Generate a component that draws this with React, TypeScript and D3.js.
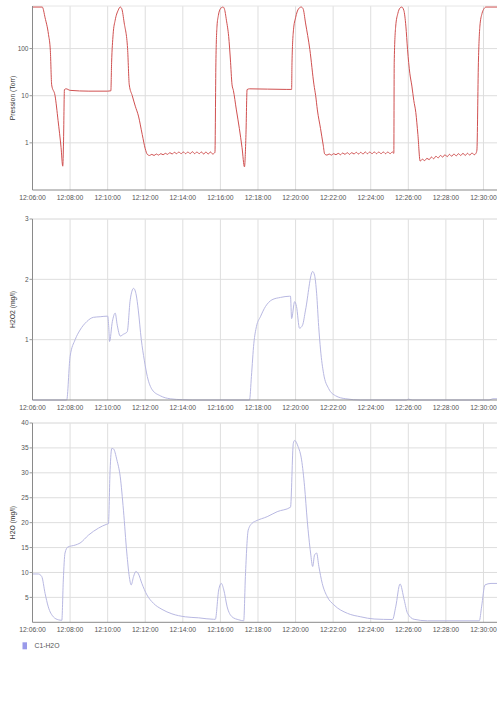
import React from "react";
import * as d3 from "d3";

// time in minutes after 12:06:00
const pressureData: [number, number][] = [
  [0, 760], [0.52, 760], [0.67, 450], [0.85, 200], [0.95, 90], [1.02, 17], [1.2, 10], [1.36, 3], [1.52, 0.8], [1.61, 0.32],
  [1.65, 1], [1.7, 13.5], [1.79, 14], [2, 13], [3, 12.5], [4, 12.5], [4.17, 12.7],
  [4.21, 50], [4.29, 200], [4.4, 400], [4.56, 650], [4.67, 760], [4.75, 700], [4.88, 350], [5.06, 100], [5.15, 17], [5.31, 10],
  [5.47, 6], [5.64, 3.7], [5.84, 1.5], [6.0, 0.75],
  [6.11, 0.57], [6.23, 0.54], [6.35, 0.57], [6.47, 0.54], [6.59, 0.58], [6.71, 0.55], [6.83, 0.59], [6.95, 0.56], [7.07, 0.6],
  [7.19, 0.57], [7.31, 0.62], [7.43, 0.58], [7.55, 0.63], [7.67, 0.59], [7.79, 0.64], [7.91, 0.59], [8.03, 0.64], [8.15, 0.59],
  [8.27, 0.64], [8.39, 0.59], [8.51, 0.65], [8.63, 0.59], [8.75, 0.64], [8.87, 0.59], [8.99, 0.64], [9.11, 0.58], [9.23, 0.64],
  [9.35, 0.58], [9.47, 0.64], [9.59, 0.58], [9.71, 0.63],
  [9.76, 50], [9.82, 300], [9.89, 500], [10.0, 700], [10.14, 760], [10.21, 700], [10.32, 400], [10.44, 180], [10.53, 60],
  [10.62, 17], [10.69, 13], [10.85, 5], [11.01, 2], [11.15, 0.8], [11.28, 0.31], [11.36, 1.5], [11.42, 13.5], [11.55, 14],
  [12.5, 13.8], [13.5, 13.6], [13.79, 13.6],
  [13.81, 50], [13.89, 250], [14.0, 450], [14.16, 700], [14.3, 760], [14.4, 700], [14.53, 350], [14.76, 95], [14.98, 17],
  [15.07, 10], [15.16, 5], [15.33, 2], [15.47, 0.9],
  [15.55, 0.58], [15.67, 0.55], [15.79, 0.58], [15.91, 0.55], [16.03, 0.59], [16.15, 0.56], [16.27, 0.6], [16.39, 0.56],
  [16.51, 0.61], [16.63, 0.57], [16.75, 0.62], [16.87, 0.57], [16.99, 0.62], [17.11, 0.58], [17.23, 0.63], [17.35, 0.58],
  [17.47, 0.63], [17.59, 0.58], [17.71, 0.64], [17.83, 0.59], [17.95, 0.64], [18.07, 0.59], [18.19, 0.64], [18.31, 0.59],
  [18.43, 0.64], [18.55, 0.59], [18.67, 0.64], [18.79, 0.59], [18.91, 0.64], [19.03, 0.59], [19.15, 0.64], [19.23, 0.6],
  [19.25, 50], [19.33, 300], [19.44, 550], [19.55, 720], [19.65, 760], [19.76, 650], [19.87, 300], [19.96, 95], [20.08, 30],
  [20.19, 16], [20.29, 8], [20.4, 4.4], [20.51, 1.5],
  [20.63, 0.41], [20.75, 0.45], [20.87, 0.42], [20.99, 0.47], [21.11, 0.44], [21.23, 0.5], [21.35, 0.46], [21.47, 0.52],
  [21.59, 0.48], [21.71, 0.54], [21.83, 0.5], [21.95, 0.56], [22.07, 0.51], [22.19, 0.57], [22.31, 0.52], [22.43, 0.58],
  [22.55, 0.53], [22.67, 0.59], [22.79, 0.54], [22.91, 0.6], [23.03, 0.54], [23.15, 0.6], [23.27, 0.55], [23.39, 0.61],
  [23.51, 0.56], [23.6, 0.6],
  [23.65, 0.7], [23.73, 50], [23.81, 300], [23.92, 550], [24.03, 700], [24.13, 760], [24.72, 760],
];

const h2o2Data: [number, number][] = [
  [0, 0], [1.82, 0], [2.0, 0.72], [2.27, 1.0], [2.53, 1.16], [2.89, 1.3], [3.24, 1.37], [3.6, 1.38], [4.0, 1.39], [4.06, 1.2],
  [4.1, 0.97], [4.25, 1.3], [4.4, 1.44], [4.51, 1.24], [4.67, 1.06], [4.84, 1.09], [5.04, 1.13], [5.2, 1.66], [5.38, 1.85],
  [5.52, 1.74], [5.63, 1.49], [5.79, 1.0], [5.95, 0.66], [6.11, 0.39], [6.37, 0.17], [6.8, 0.07], [7.33, 0.02], [7.97, 0.005],
  [8.5, 0], [11.55, 0], [11.65, 0.39], [11.78, 0.94], [11.92, 1.22], [12.13, 1.38], [12.4, 1.55], [12.74, 1.66], [13.2, 1.7],
  [13.68, 1.72], [13.73, 1.72], [13.79, 1.35], [13.95, 1.63], [14.05, 1.55], [14.21, 1.19], [14.37, 1.24], [14.53, 1.49],
  [14.91, 2.13], [15.01, 2.07], [15.12, 1.77], [15.23, 1.22], [15.33, 0.83], [15.49, 0.44], [15.76, 0.19], [16.13, 0.07],
  [16.67, 0.02], [17.47, 0], [19.9, 0], [20.0, 0.015], [20.2, 0], [24.3, 0], [24.5, 0.02], [24.72, 0.02],
];

const h2oData: [number, number][] = [
  [0, 9.7], [0.31, 9.7], [0.49, 9.2], [0.67, 5.8], [0.84, 3.1], [1.11, 1.1], [1.38, 0.5], [1.56, 0.4], [1.64, 8.5],
  [1.73, 13.9], [1.88, 15.1], [2.27, 15.5], [2.53, 15.9], [2.98, 17.5], [3.51, 18.9], [3.96, 19.7], [4.04, 19.8],
  [4.13, 30.6], [4.22, 34.9], [4.31, 34.8], [4.49, 32.6], [4.67, 29.2], [4.84, 22.5], [5.02, 13.9], [5.15, 9.2], [5.25, 7.5],
  [5.38, 9.2], [5.5, 10.2], [5.64, 9.7], [5.82, 7.8], [6.09, 5.5], [6.44, 3.8], [6.89, 2.6], [7.42, 1.7], [8.13, 1.1],
  [8.84, 0.9], [9.64, 0.6], [9.73, 0.6], [9.91, 6.5], [10.05, 7.8], [10.18, 6.5], [10.36, 3.1], [10.62, 1.1], [10.98, 0.5],
  [11.24, 0.3], [11.33, 9.2], [11.48, 18.5], [11.69, 19.9], [11.87, 20.3], [12.49, 21.2], [13.02, 22.2], [13.73, 23.1],
  [13.88, 35.9], [13.95, 36.5], [14.13, 35.3], [14.32, 32.6], [14.48, 27.2], [14.62, 20.5], [14.8, 13.9], [14.91, 11.2],
  [15.01, 13.5], [15.12, 13.9], [15.24, 11.2], [15.42, 7.8], [15.69, 5.1], [16.04, 3.5], [16.76, 1.8], [17.47, 1.1],
  [18.18, 0.66], [19.16, 0.56], [19.33, 3.1], [19.56, 7.7], [19.78, 4.5], [19.96, 1.8], [20.31, 0.6], [21.02, 0.3],
  [23.78, 0.3], [23.9, 3.1], [24.08, 7.5], [24.4, 7.8], [24.72, 7.8],
];

const pressureTicks = [1, 10, 100];
const h2o2Ticks = [1, 2, 3];
const h2oTicks = [5, 10, 15, 20, 25, 30, 35, 40];
const legendLabel = "C1-H2O";

const W = 498;
const H = 711;
const LEFT = 32.5;
const RIGHT = 497;
const T0 = new Date(2020, 0, 1, 12, 6, 0).getTime();
const toDate = (m: number) => new Date(T0 + m * 60000);
const END = 24.72;

const x = d3.scaleTime().domain([toDate(0), toDate(END)]).range([LEFT, RIGHT]);
const xTicks = x.ticks(d3.timeMinute.every(2)!);
const fmt = d3.timeFormat("%H:%M:%S");

const FONT = "Liberation Sans, Arial, sans-serif";

type PanelProps = {
  data: [number, number][];
  y: d3.ScaleContinuousNumeric<number, number>;
  ticks: number[];
  top: number;
  bottom: number;
  label: string;
  color: string;
  width: number;
  tickFmt: (v: number) => string;
};

function Panel({ data, y, ticks, top, bottom, label, color, width, tickFmt }: PanelProps) {
  const line = d3
    .line<[number, number]>()
    .x((d) => x(toDate(d[0])))
    .y((d) => y(d[1]))
    .curve(d3.curveMonotoneX);
  return (
    <g>
      <rect x={LEFT} y={top} width={RIGHT - LEFT} height={bottom - top} fill="#fff" />
      {xTicks.map((t, i) => (
        <line key={"v" + i} x1={x(t)} x2={x(t)} y1={top} y2={bottom} stroke="#dedede" strokeWidth={1} />
      ))}
      {ticks.map((t, i) => (
        <line key={"h" + i} x1={LEFT} x2={RIGHT} y1={y(t)} y2={y(t)} stroke="#dedede" strokeWidth={1} />
      ))}
      <line x1={LEFT} x2={RIGHT} y1={top} y2={top} stroke="#e6e6e6" />
      <path d={line(data) || ""} fill="none" stroke={color} strokeWidth={width} strokeLinejoin="round" />
      <line x1={LEFT} x2={LEFT} y1={top} y2={bottom} stroke="#8a8a8a" strokeWidth={1} />
      <line x1={LEFT} x2={RIGHT} y1={bottom} y2={bottom} stroke="#8a8a8a" strokeWidth={1} />
      {ticks.map((t, i) => (
        <g key={"yt" + i}>
          <line x1={LEFT - 3} x2={LEFT} y1={y(t)} y2={y(t)} stroke="#999" />
          <text x={LEFT - 4} y={y(t) + 2.3} fontSize={6.5} textAnchor="end" fill="#555" fontFamily={FONT}>
            {tickFmt(t)}
          </text>
        </g>
      ))}
      {xTicks.map((t, i) => (
        <text key={"xt" + i} x={x(t)} y={bottom + 9.5} fontSize={6.8} textAnchor="middle" fill="#555" fontFamily={FONT}>
          {fmt(t)}
        </text>
      ))}
      <text
        transform={`translate(14.5, ${(top + bottom) / 2}) rotate(-90)`}
        fontSize={6.8}
        textAnchor="middle"
        fill="#333"
        fontFamily={FONT}
      >
        {label}
      </text>
    </g>
  );
}

export default function App() {
  const yP = d3.scaleLog().domain([0.1, 800]).range([190, 6]);
  const yO2 = d3.scaleLinear().domain([0, 3]).range([400, 219]);
  const yO = d3.scaleLinear().domain([0, 40]).range([622.3, 423]);
  return (
    <svg width={W} height={H} style={{ position: "absolute", left: 0, top: 0, background: "#fff" }}>
      <rect width={W} height={H} fill="#fff" />
      <Panel data={pressureData} y={yP as any} ticks={pressureTicks} top={6} bottom={190} label="Pression (Torr)"
        color="#d05050" width={1} tickFmt={(v) => String(v)} />
      <Panel data={h2o2Data} y={yO2} ticks={h2o2Ticks} top={219} bottom={400} label="H2O2 (mg/l)"
        color="#b8b8e2" width={1} tickFmt={(v) => String(v)} />
      <Panel data={h2oData} y={yO} ticks={h2oTicks} top={423} bottom={622.3} label="H2O (mg/l)"
        color="#b8b8e2" width={1} tickFmt={(v) => String(v)} />
      <rect x={22.5} y={642.3} width={4.5} height={7} fill="#9a9aea" />
      <text x={34.5} y={648.2} fontSize={6.8} fill="#555" fontFamily={FONT}>{legendLabel}</text>
    </svg>
  );
}
